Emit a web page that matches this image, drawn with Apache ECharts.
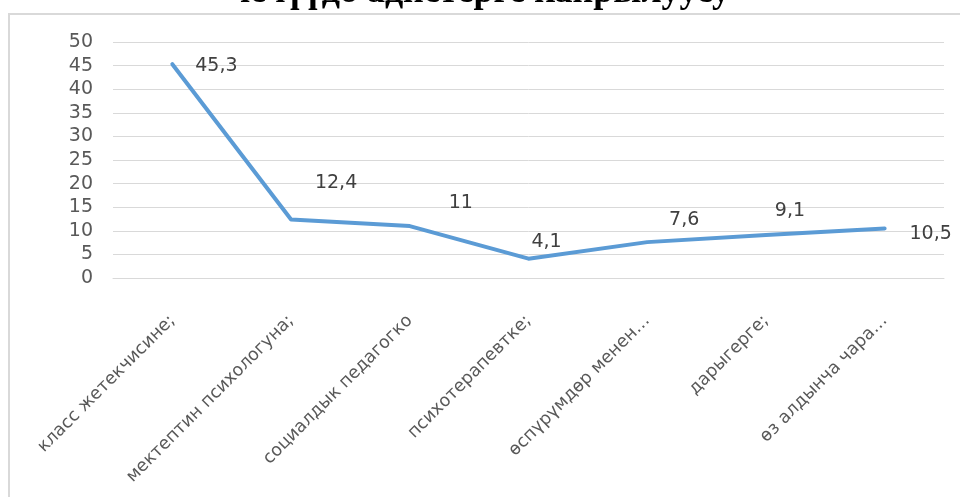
<!DOCTYPE html>
<html>
<head>
<meta charset="utf-8">
<script src="https://cdn.jsdelivr.net/npm/echarts@6/dist/echarts.min.js"></script>
<style>
  html, body { margin: 0; padding: 0; background: #ffffff; }
  #chart { width: 960px; height: 497px; }
</style>
</head>
<body>
<div id="chart"></div>
<script>
// Chart content
const titleText = 'чечүүдө адистерге кайрылуусу';
const categories = [
  'класс жетекчисине;',
  'мектептин психологуна;',
  'социалдык педагогко',
  'психотерапевтке;',
  'өспүрүмдөр менен…',
  'дарыгерге;',
  'өз алдынча чара…'
];
const values = [45.3, 12.4, 11, 4.1, 7.6, 9.1, 10.5];
const yTicks = { min: 0, max: 50, step: 5 };

// Where each value label sits relative to its point (px)
const labelShift = [[44, 2], [45, -36], [51, -23], [18, -17], [37, -22], [24, -24], [46, 6]];

const chart = echarts.init(document.getElementById('chart'), null, { renderer: 'canvas' });

const seriesData = values.map((v, i) => ({
  value: v,
  label: { offset: labelShift[i] }
}));

chart.setOption({
  animation: false,
  backgroundColor: '#ffffff',
  title: {
    text: titleText,
    left: 'center',
    top: -30,
    textStyle: {
      fontFamily: 'Liberation Serif',
      fontWeight: 'bold',
      fontSize: 36,
      color: '#000000'
    }
  },
  graphic: [{
    type: 'rect',
    z: -1,
    shape: { x: 9, y: 14, width: 1000, height: 600 },
    style: { fill: 'none', stroke: '#d9d9d9', lineWidth: 2 }
  }],
  grid: { left: 113, right: 16, top: 42, bottom: 219, containLabel: false },
  xAxis: {
    type: 'category',
    data: categories,
    boundaryGap: true,
    axisLine: { show: true, lineStyle: { color: '#d9d9d9', width: 1 } },
    axisTick: { show: false },
    axisLabel: {
      rotate: 45,
      interval: 0,
      margin: 40,
      fontFamily: 'DejaVu Sans',
      fontSize: 17.5,
      color: '#595959'
    }
  },
  yAxis: {
    type: 'value',
    min: yTicks.min,
    max: yTicks.max,
    interval: yTicks.step,
    axisLine: { show: false },
    axisTick: { show: false },
    splitLine: { lineStyle: { color: '#d9d9d9', width: 1 } },
    axisLabel: {
      margin: 20,
      fontFamily: 'DejaVu Sans',
      fontSize: 19,
      color: '#595959'
    }
  },
  series: [{
    type: 'line',
    data: seriesData,
    symbol: 'circle',
    symbolSize: 0.1,
    showSymbol: true,
    itemStyle: { color: '#5b9bd5' },
    lineStyle: { color: '#5b9bd5', width: 4, cap: 'round', join: 'round' },
    label: {
      show: true,
      position: 'inside',
      align: 'center',
      verticalAlign: 'middle',
      fontFamily: 'DejaVu Sans',
      fontSize: 19,
      color: '#404040',
      formatter: p => String(p.value).replace('.', ',')
    }
  }]
});
</script>
</body>
</html>
